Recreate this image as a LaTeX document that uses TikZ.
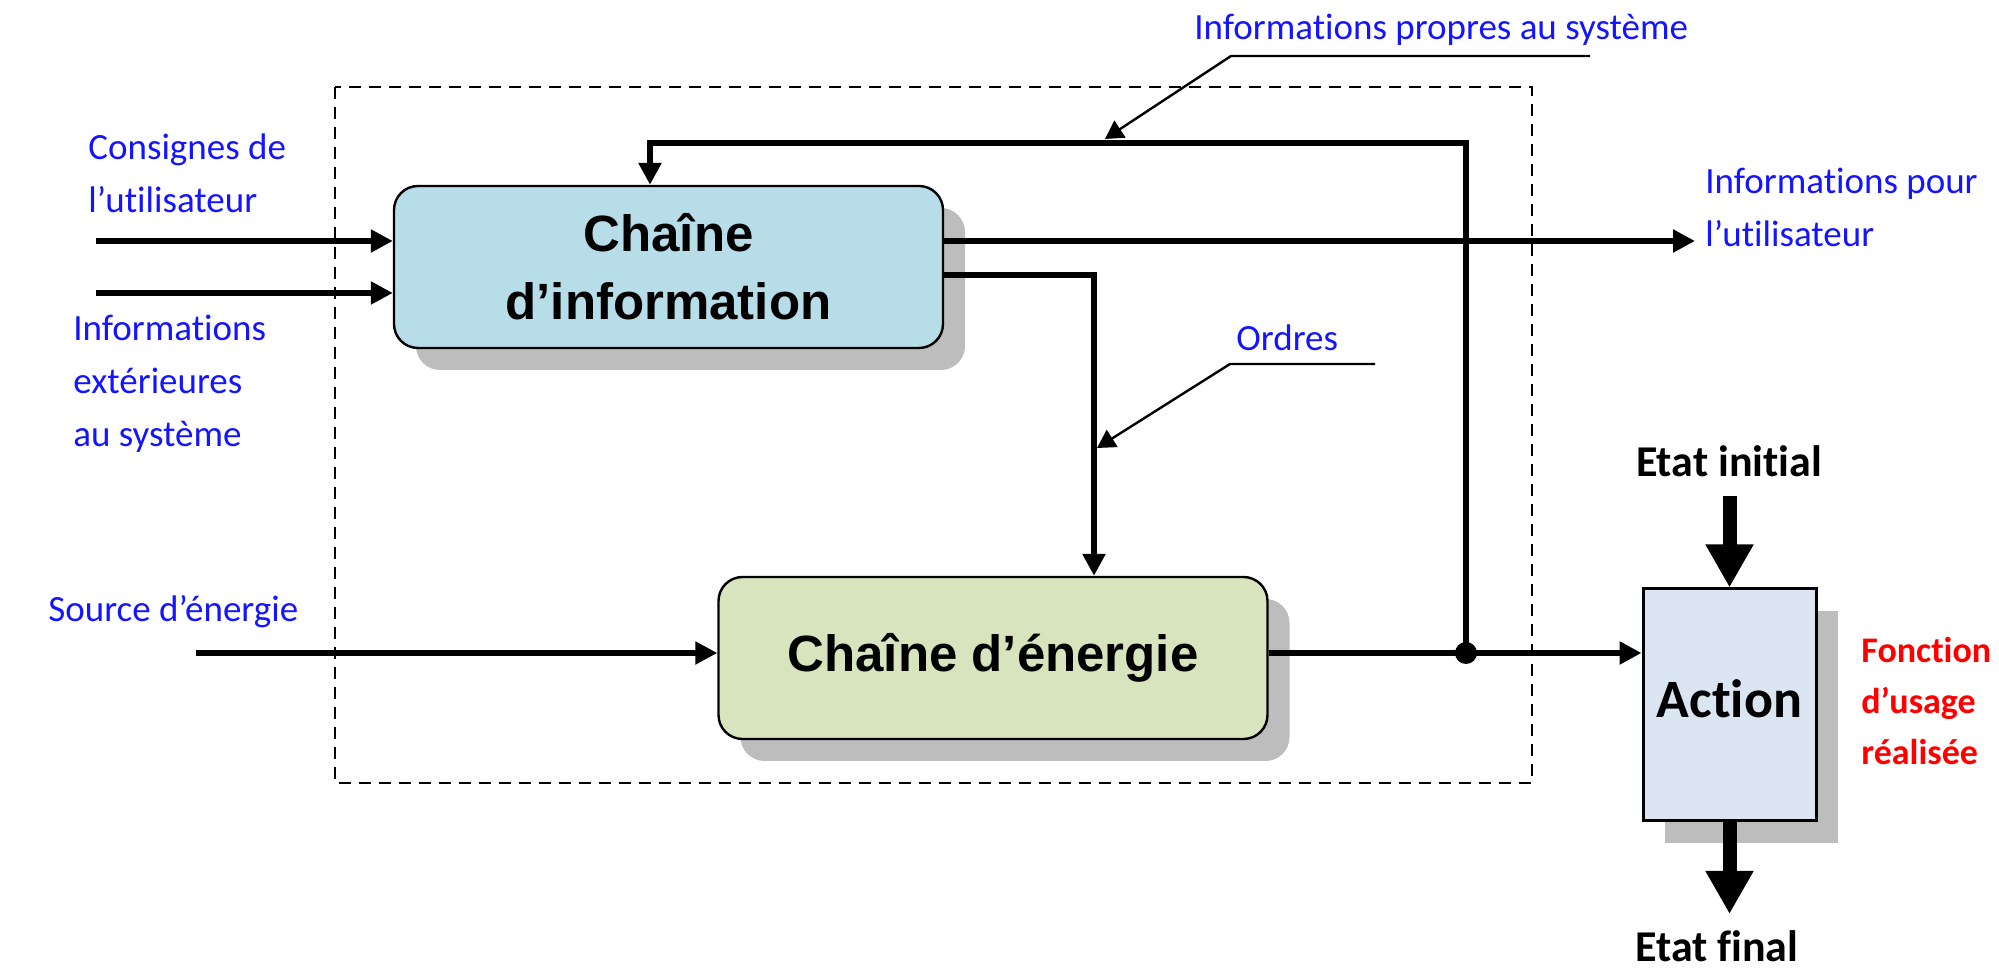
\documentclass[tikz,border=0pt]{standalone}
\usepackage{fontspec}
\setmainfont{Carlito}[Ligatures=NoCommon]
\newfontfamily\arialf{Liberation Sans}[Ligatures=NoCommon]
\usetikzlibrary{arrows.meta,shadows,calc}
\definecolor{infofill}{HTML}{B7DDE8}
\definecolor{enerfill}{HTML}{D7E4BD}
\definecolor{actfill}{HTML}{DBE5F1}
\definecolor{lblblue}{HTML}{1414FF}
\definecolor{lblred}{HTML}{FF0000}
\definecolor{shadowgray}{HTML}{BDBDBD}
\begin{document}
\begin{tikzpicture}[x=0.5pt,y=-0.5pt,
  chainbox/.style={draw=black, line width=1.2pt, rounded corners=12pt,
    minimum width=274.5pt, minimum height=81pt, inner sep=0pt, align=center,
    font=\arialf\bfseries\fontsize{25.5}{34}\selectfont,
    general shadow={fill=shadowgray, shadow xshift=11pt, shadow yshift=-11pt}},
  actbox/.style={draw=black, line width=1.5pt, fill=actfill,
    minimum width=86.5pt, minimum height=116pt, inner sep=0pt,
    font=\bfseries\fontsize{27}{30}\selectfont, text height=17.5pt, text depth=5pt,
    general shadow={fill=shadowgray, shadow xshift=11pt, shadow yshift=-11pt}},
  lbl/.style={text=lblblue, font=\fontsize{18.5}{26.5}\selectfont, inner sep=0pt,
    align=left, anchor=west},
  etat/.style={font=\bfseries\fontsize{22}{26}\selectfont, inner sep=0pt},
  fct/.style={text=lblred, font=\bfseries\fontsize{18}{25.5}\selectfont, inner sep=0pt,
    align=left, anchor=west},
  arr/.style={line width=2.6pt, -{Triangle[length=11pt,width=11pt]}},
  fbarr/.style={line width=2.9pt, -{Triangle[length=11pt,width=11pt]}},
  annot/.style={line width=1.2pt, -{Triangle[length=9pt,width=10pt]}},
  bigarr/.style={line width=7pt, -{Triangle[length=21.5pt,width=22.5pt]}},
  sysbox/.style={line width=1.3pt, dash pattern=on 6pt off 4pt}
]
\useasboundingbox (0,0) rectangle (1999,977);

% system boundary
\draw[sysbox] (335,87) rectangle (1532,783);

% blocks
\node[chainbox, fill=infofill] (info) at (668.5,267) {Chaîne\\d’information};
\node[chainbox, fill=enerfill] (ener) at (993,658) {Chaîne d’énergie};
\node[actbox] (act) at (1729.5,705) {Action};

% labels
\node[lbl] (lcons) at (88,173) {Consignes de\\l’utilisateur};
\node[lbl] (lext) at (73,384) {Informations\\extérieures\\au système};
\node[lbl] (lsrc) at (48,612) {Source d’énergie};
\node[lbl] (lprop) at (1194,30) {Informations propres au système};
\node[lbl] (lpour) at (1705,207) {Informations pour\\l’utilisateur};
\node[lbl] (lord) at (1236,338) {Ordres};
\node[etat] (lei) at (1729,461) {Etat initial};
\node[etat, anchor=west] (lef) at (1635,946) {Etat final};
\node[fct] (lfct) at (1861,701) {Fonction\\d’usage\\réalisée};

% coordinates
\coordinate (c1) at (96,241);
\coordinate (c2) at (96,293);
\coordinate (c3) at (196,653);
\coordinate (c4) at (1695,241);
\coordinate (o1) at (1094,275);
\coordinate (j) at (1466,653);
\coordinate (fb) at (650,143);
\coordinate (a1) at (1590,56);
\coordinate (a1b) at (1231,56);
\coordinate (a1t) at (1105,139);
\coordinate (a2) at (1375,364);
\coordinate (a2b) at (1230,364);
\coordinate (a2t) at (1097,448);
\coordinate (ei) at (1729.5,496);
\coordinate (ef) at (1729.5,914);

% connectors
\draw[arr] (c1) -- (c1 -| info.west);
\draw[arr] (c2) -- (c2 -| info.west);
\draw[arr] (c3) -- (c3 -| ener.west);
\draw[arr] (c4 -| info.east) -- (c4);
\draw[fbarr] (o1 -| info.east) -- (o1) -- (o1 |- ener.north);
\draw[fbarr] (j -| ener.east) -- (j -| act.west);
\draw[fbarr] (j) |- (fb) -- (fb |- info.north);
\fill (j) circle[radius=5.5pt];
\draw[annot] (a1) -- (a1b) -- (a1t);
\draw[annot] (a2) -- (a2b) -- (a2t);
\draw[bigarr] (ei) -- (ei |- act.north);
\draw[bigarr] (act.south) -- (ef);
\end{tikzpicture}
\end{document}
